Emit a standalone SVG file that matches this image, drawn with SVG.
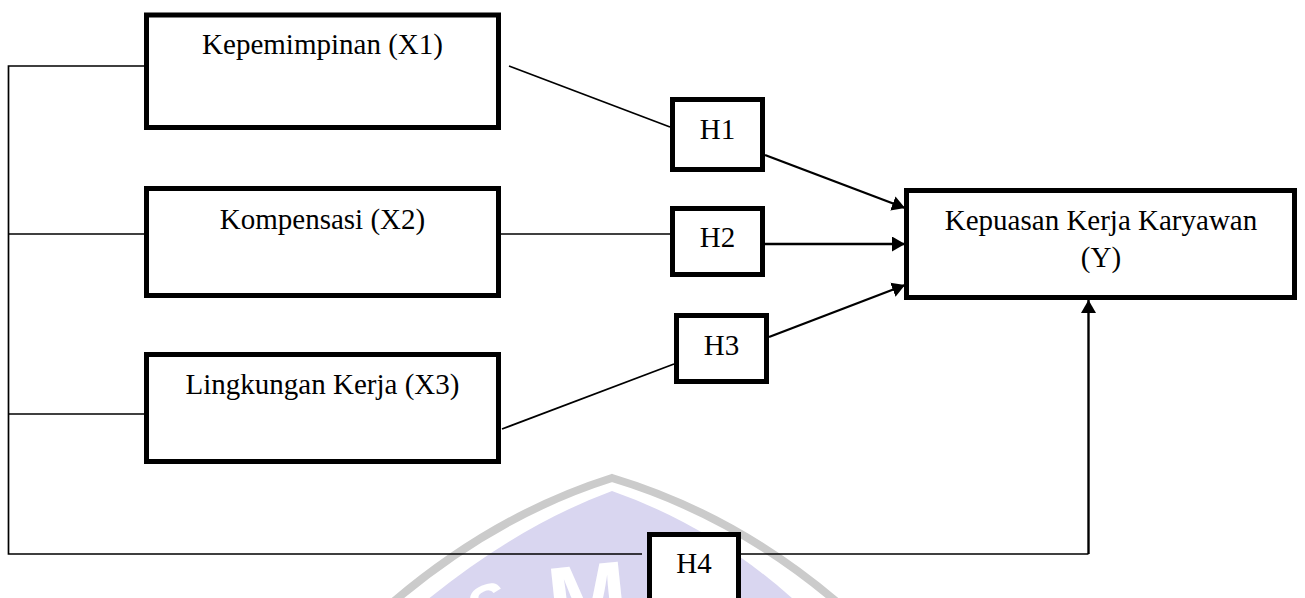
<svg xmlns="http://www.w3.org/2000/svg" width="1305" height="598" viewBox="0 0 1305 598">
<defs>
<style>
.box{fill:#fff;stroke:#000;stroke-width:5}
.lbl{font-family:"Liberation Serif","Times New Roman",serif;font-size:29px;fill:#000;text-anchor:middle}
.thin{fill:none;stroke:#000;stroke-width:1.7}
.arr{fill:none;stroke:#000;stroke-width:2.4}
.wm{font-family:"Liberation Sans",Arial,sans-serif;font-weight:bold;fill:#fff;text-anchor:middle}
</style>
<marker id="ah" markerUnits="userSpaceOnUse" markerWidth="14" markerHeight="16" refX="13" refY="7.5" orient="auto" viewBox="0 0 14 16">
<path d="M0,0 L13,7.5 L0,15 Z" fill="#000"/>
</marker>
</defs>
<rect width="1305" height="598" fill="#fff"/>
<g id="watermark">
<path d="M415 610 Q512 528 612 491 Q718 528 805 610 Z" fill="#d9d6f0"/>
<path d="M392 603 Q495 515 612 478 Q735 515 838 603" fill="none" stroke="#cbcbcb" stroke-width="8"/>
<text class="wm" x="490" y="626" font-size="60" transform="rotate(-24 490 605)">S</text>
<text class="wm" x="588" y="631" font-size="96" transform="rotate(-6 588 600)">M</text>
</g>
<g id="connectors">
<path class="thin" d="M144 66 H8.5 V554 H642"/>
<path class="thin" d="M8.5 234 H144"/>
<path class="thin" d="M8.5 414 H144"/>
<path class="thin" d="M741 554 H1088.5"/>
<path class="arr" d="M1088.5 554 V300" marker-end="url(#ah)"/>
<path class="thin" d="M509 66 L670 127" stroke-width="2"/>
<path class="arr" d="M765 155 L905 208" marker-end="url(#ah)"/>
<path class="thin" d="M501 234 H670"/>
<path class="arr" d="M765 244 H905" marker-end="url(#ah)"/>
<path class="thin" d="M502 429 L674 364" stroke-width="2"/>
<path class="arr" d="M769 337 L905 285" marker-end="url(#ah)"/>
</g>
<g id="x1">
<rect class="box" x="146.5" y="15" width="352" height="112.5"/>
<text class="lbl" x="322.5" y="54">Kepemimpinan (X1)</text>
</g>
<g id="x2">
<rect class="box" x="146.5" y="188.5" width="352" height="107"/>
<text class="lbl" x="322.5" y="229">Kompensasi (X2)</text>
</g>
<g id="x3">
<rect class="box" x="146.5" y="354.5" width="352" height="107"/>
<text class="lbl" x="322.5" y="394">Lingkungan Kerja (X3)</text>
</g>
<g id="h1">
<rect class="box" x="672.5" y="99.5" width="90" height="70"/>
<text class="lbl" x="717.5" y="139">H1</text>
</g>
<g id="h2">
<rect class="box" x="672.5" y="208.5" width="90" height="66"/>
<text class="lbl" x="717.5" y="247">H2</text>
</g>
<g id="h3">
<rect class="box" x="676.5" y="315.5" width="90" height="66"/>
<text class="lbl" x="721.5" y="355">H3</text>
</g>
<g id="h4">
<rect class="box" x="649.5" y="534.5" width="89" height="80"/>
<text class="lbl" x="694" y="573">H4</text>
</g>
<g id="y">
<rect class="box" x="906.5" y="190.5" width="388" height="107"/>
<text class="lbl" x="1101" y="230">Kepuasan Kerja Karyawan</text>
<text class="lbl" x="1101" y="267">(Y)</text>
</g>
</svg>
